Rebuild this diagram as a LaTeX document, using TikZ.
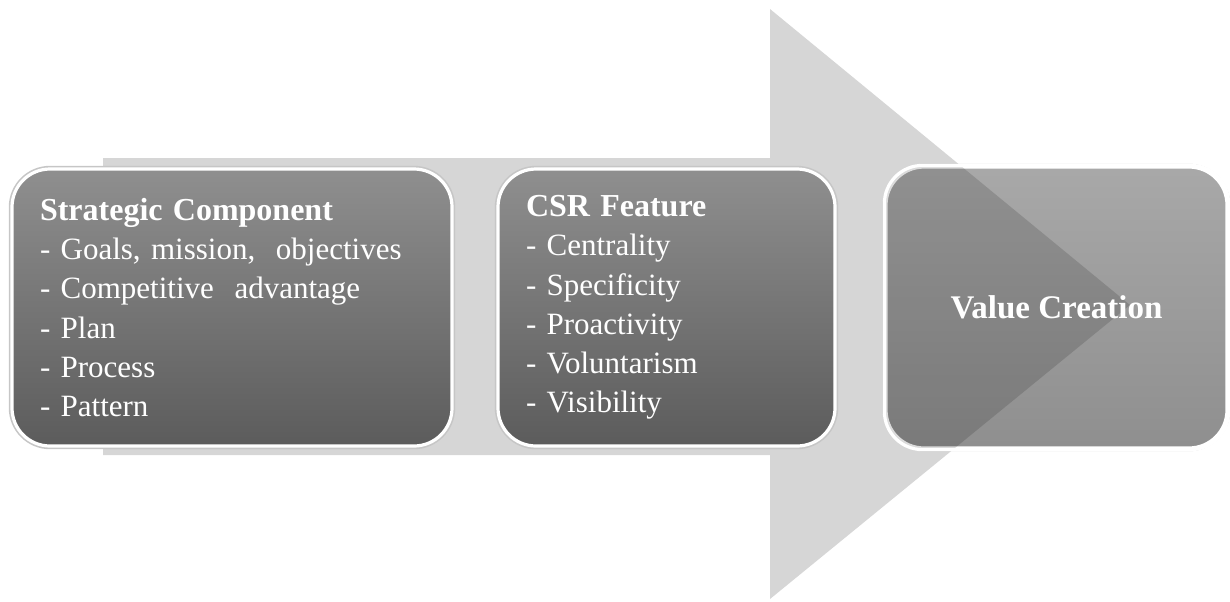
\documentclass[tikz,border=0pt]{standalone}
\usepackage{fontspec}
\setmainfont{Liberation Serif}
\usepackage{xcolor}
\usepackage{tikz}
\usetikzlibrary{positioning}
\definecolor{ArrowGray}{rgb}{0.84,0.84,0.84}
\definecolor{BoxTop}{rgb}{0.56,0.56,0.56}
\definecolor{BoxBottom}{rgb}{0.36,0.36,0.36}
\definecolor{LastTop}{rgb}{0.66,0.66,0.66}
\definecolor{LastBottom}{rgb}{0.56,0.56,0.56}

\tikzset{
	stagebox/.style={rounded corners=19pt, draw=white, line width=1.6pt,
		top color=BoxTop, bottom color=BoxBottom, text=white, inner xsep=14pt,
		minimum height=138.5pt, font=\fontsize{15.5}{19.6}\selectfont},
	glow/.style={rounded corners=19pt, draw=gray!45, line width=3.2pt}
}

\begin{document}
\begin{tikzpicture}[x=0.5pt, y=-0.5pt]
		\useasboundingbox (0, 0) rectangle (1230, 601);
		
		% big arrow in the back
		\fill [ArrowGray] (103, 158) -- (770, 158) -- (770, 9) -- (1130, 305) -- (770, 599) -- (770, 455) -- (103, 455) -- cycle;
		
		\node [stagebox, glow, minimum width=220pt, minimum height=138.5pt] at (232, 307.5) {};
		\node (strat) [stagebox, minimum width=220pt, text width=192pt, align=left] at (232, 307.5)
			{{\fontsize{16}{19.6}\selectfont\textbf{Strategic Component}}\\- Goals, mission,\ \ objectives\\- Competitive\ \ advantage\\- Plan\\- Process\\- Pattern};
		
		\node [stagebox, glow, minimum width=168.5pt] at (666.5, 307.5) {};
		\node (csr) [stagebox, minimum width=168.5pt, text width=140.5pt, align=left] at (666.5, 307.5)
			{{\fontsize{16}{19.6}\selectfont\textbf{CSR Feature}}\\- Centrality\\- Specificity\\- Proactivity\\- Voluntarism\\- Visibility};
		
		\node [stagebox, glow, minimum width=170.5pt, minimum height=140.5pt] at (1056.5, 307.5) {};
		\node (value) [stagebox, top color=LastTop, bottom color=LastBottom, minimum width=170.5pt, minimum height=140.5pt] at (1056.5, 307.5) {};
		
		% arrow head seen through the last box
		\begin{scope}
			\clip [rounded corners=19pt] (value.north west) rectangle (value.south east);
			\fill [black, fill opacity=0.14] (770, 9) -- (1130, 305) -- (770, 599) -- cycle;
		\end{scope}
		\draw [white, line width=1.6pt, rounded corners=19pt] (value.north west) rectangle (value.south east);
		\node [text=white, font=\fontsize{16.5}{19}\selectfont\bfseries] at (value.center) {Value Creation};
	\end{tikzpicture}
\end{document}
